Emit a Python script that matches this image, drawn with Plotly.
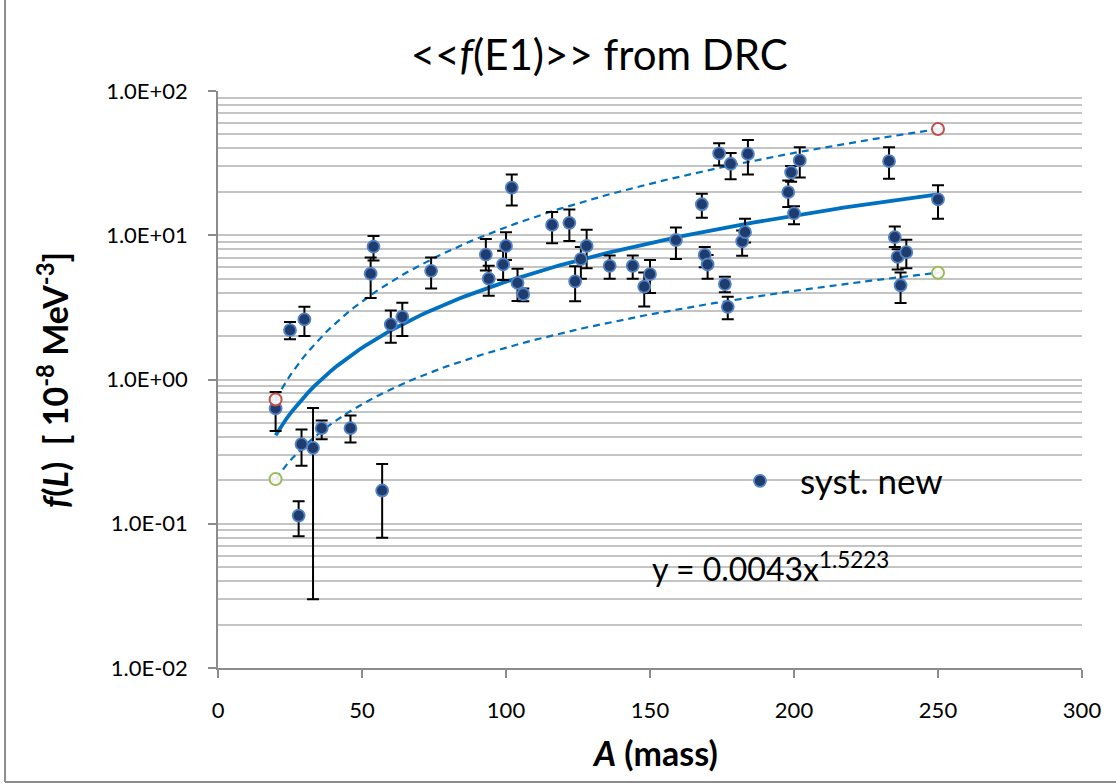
import numpy as np
import plotly.graph_objects as go

# ---- data ----
mass = [20, 25, 28, 29, 30, 33, 36, 46, 53, 54, 57, 60, 64, 74, 93, 94, 99, 100, 102, 104,
        106, 116, 122, 124, 126, 128, 136, 144, 148, 150, 159, 168, 169, 170, 174, 176, 177,
        178, 182, 183, 184, 198, 199, 200, 202, 233, 235, 236, 237, 239, 250]
f_val = [0.63, 2.2, 0.114, 0.356, 2.61, 0.336, 0.46, 0.46, 5.41, 8.34, 0.17, 2.41, 2.72, 5.67,
         7.35, 5.0, 6.27, 8.43, 21.4, 4.67, 3.90, 11.8, 12.2, 4.79, 6.83, 8.43, 6.14, 6.14,
         4.40, 5.38, 9.27, 16.4, 7.31, 6.27, 37.0, 4.59, 3.19, 31.3, 9.08, 10.5, 36.6, 19.9,
         27.3, 14.2, 33.0, 32.6, 9.72, 7.08, 4.50, 7.63, 17.7]
f_hi = [0.82, 2.5, 0.143, 0.451, 3.19, 0.634, 0.52, 0.564, 7.0, 9.88, 0.26, 3.01, 3.40, 7.0,
        9.42, 6.14, 7.8, 10.5, 26.4, 5.86, 4.27, 14.5, 15.1, 6.1, 8.3, 10.9, 7.25, 7.25,
        5.52, 6.74, 11.3, 19.4, 8.3, 7.3, 43.4, 5.15, 3.74, 37.2, 10.8, 13.0, 45.8, 24.0,
        30.2, 15.9, 40.7, 40.7, 11.5, 8.0, 5.52, 9.3, 22.2]
f_lo = [0.44, 1.9, 0.082, 0.252, 2.0, 0.03, 0.386, 0.366, 3.68, 6.68, 0.08, 1.80, 2.0, 4.27,
        5.7, 3.80, 4.9, 6.74, 16.1, 3.5, 3.49, 8.8, 9.13, 3.49, 5.0, 5.9, 5.0, 5.0,
        3.21, 3.98, 6.85, 13.2, 6.0, 5.0, 30.5, 4.03, 2.62, 24.4, 7.2, 8.9, 26.4, 15.7,
        23.5, 11.9, 25.1, 24.6, 8.3, 5.8, 3.39, 5.9, 13.0]

upper_mass = [20, 250]
upper_val = [0.726, 54.5]
lower_mass = [20, 250]
lower_val = [0.204, 5.50]

fit_coef = 0.0043
fit_exp = 1.5223

y_tick_vals = [0.01, 0.1, 1, 10, 100]
y_tick_text = ["1.0E-02", "1.0E-01", "1.0E+00", "1.0E+01", "1.0E+02"]
x_tick_vals = [0, 50, 100, 150, 200, 250, 300]

FONT = "Lato"


def power_fit(xs, ys):
    b, lna = np.polyfit(np.log(xs), np.log(ys), 1)
    return np.exp(lna), b


fig = go.Figure()

# trend lines
xs = np.linspace(20, 250, 120)
for mx, my in [(upper_mass, upper_val), (lower_mass, lower_val)]:
    a, b = power_fit(mx, my)
    fig.add_trace(go.Scatter(x=xs, y=a * xs ** b, mode="lines", showlegend=False,
                             hoverinfo="skip",
                             line=dict(color="#0070C0", width=2.2, dash="7px,5px")))
fig.add_trace(go.Scatter(x=xs, y=fit_coef * xs ** fit_exp, mode="lines", showlegend=False,
                         hoverinfo="skip", line=dict(color="#0070C0", width=3.8)))

f_arr = np.array(f_val)
fig.add_trace(go.Scatter(
    x=mass, y=f_val, mode="markers", name="syst. new",
    marker=dict(size=12, color="#1F3C6E", line=dict(color="#5383C4", width=1.8)),
    error_y=dict(type="data", symmetric=False,
                 array=list(np.array(f_hi) - f_arr),
                 arrayminus=list(f_arr - np.array(f_lo)),
                 color="black", thickness=2, width=6),
))

for mx, my, col in [(upper_mass, upper_val, "#C0504D"), (lower_mass, lower_val, "#9BBB59")]:
    fig.add_trace(go.Scatter(
        x=mx, y=my, mode="markers", showlegend=False,
        marker=dict(size=12, color="rgba(255,255,255,0.9)", line=dict(color=col, width=2)),
        error_x=dict(type="constant", value=1.0, color="#333333", thickness=1.2, width=3),
    ))

grid_minor = [m * 10.0 ** e for e in range(-2, 2) for m in range(2, 10)]

fig.update_layout(
    width=1116, height=784,
    margin=dict(l=218, r=34, t=91, b=116),
    paper_bgcolor="white", plot_bgcolor="white",
    font=dict(family=FONT, color="black", size=22),
    title=dict(text="&lt;&lt;<i>f</i>(E1)&gt;&gt; from DRC", x=0.537, xanchor="center",
               y=0.93, yanchor="middle", font=dict(size=42, family=FONT)),
    xaxis=dict(range=[0, 300], tickvals=x_tick_vals, showgrid=False, zeroline=False,
               showline=True, linecolor="#8C8C8C", linewidth=1.5,
               ticks="outside", ticklen=8, tickcolor="#8C8C8C", tickwidth=1.5,
               tickfont=dict(size=22), ticklabelstandoff=14),
    yaxis=dict(type="log", range=[-2, 2], tickvals=y_tick_vals, ticktext=y_tick_text,
               showgrid=True, gridcolor="#C4C4C4", gridwidth=1.8, zeroline=False,
               showline=True, linecolor="#8C8C8C", linewidth=1.5,
               ticks="outside", ticklen=8, tickcolor="#8C8C8C", tickwidth=1.5,
               tickfont=dict(size=22), ticklabelstandoff=16,
               minor=dict(tickmode="array", tickvals=grid_minor, showgrid=True,
                          gridcolor="#C4C4C4", gridwidth=1.8, ticks="")),
    legend=dict(x=0.581, y=0.324, xanchor="left", yanchor="middle", itemwidth=70,
                bgcolor="rgba(0,0,0,0)", font=dict(size=35)),
    showlegend=True,
)

fig.add_annotation(text="<b><i>A</i> (mass)</b>", xref="paper", yref="paper",
                   x=0.506, y=-0.1456, xanchor="center", yanchor="middle", showarrow=False,
                   font=dict(size=34))
fig.add_annotation(text="<b><i>f</i>(<i>L</i>)  [ 10<sup>-8</sup> MeV<sup>-3</sup>]</b>",
                   xref="paper", yref="paper", x=-0.191, y=0.499, xanchor="center",
                   yanchor="middle", textangle=-90, showarrow=False, font=dict(size=34))
fig.add_annotation(text="y = 0.0043x<sup>1.5223</sup>", xref="paper", yref="paper",
                   x=0.5, y=0.175, xanchor="left", yanchor="middle", showarrow=False,
                   font=dict(size=32))

# chart-area frame (left and bottom edges visible)
fig.add_shape(type="line", xref="paper", yref="paper", x0=-0.2465, x1=-0.2465,
              y0=-0.1976, y1=1.2, line=dict(color="#8C8C8C", width=2))
fig.add_shape(type="line", xref="paper", yref="paper", x0=-0.2465, x1=1.1,
              y0=-0.1976, y1=-0.1976, line=dict(color="#8C8C8C", width=2))

fig.write_html("out.html", config={"displayModeBar": False},
               post_script="document.body.style.margin='0';")
